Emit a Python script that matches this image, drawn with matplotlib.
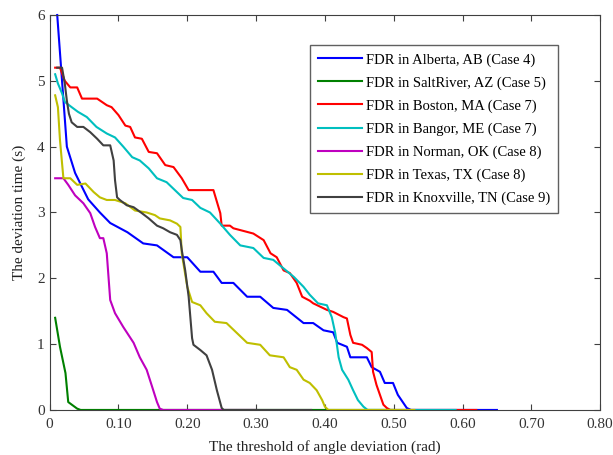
import matplotlib.pyplot as plt

plt.rcParams['font.family'] = ['Liberation Serif', 'DejaVu Serif']

# threshold (rad) / deviation time (s)
alberta_x = [0.011, 0.018, 0.025, 0.037, 0.056, 0.073, 0.088, 0.113, 0.136, 0.156, 0.18, 0.2,
             0.219, 0.238, 0.25, 0.267, 0.287, 0.306, 0.325, 0.345, 0.369, 0.383, 0.398, 0.412,
             0.418, 0.432, 0.437, 0.461, 0.468, 0.48, 0.487, 0.499, 0.506, 0.519, 0.525, 0.65]
alberta_y = [6.0, 5.0, 4.0, 3.6, 3.2, 3.0, 2.84, 2.7, 2.53, 2.5, 2.32, 2.32,
             2.1, 2.1, 1.93, 1.93, 1.72, 1.72, 1.55, 1.52, 1.32, 1.32, 1.21, 1.18,
             1.02, 0.96, 0.8, 0.8, 0.65, 0.58, 0.41, 0.41, 0.23, 0.03, 0.0, 0.0]

saltriver_x = [0.008, 0.015, 0.023, 0.027, 0.04, 0.045, 0.5]
saltriver_y = [1.4, 0.96, 0.56, 0.12, 0.02, 0.0, 0.0]

boston_x = [0.008, 0.015, 0.022, 0.03, 0.04, 0.047, 0.069, 0.083, 0.09, 0.1, 0.11, 0.117,
            0.124, 0.134, 0.144, 0.156, 0.168, 0.18, 0.192, 0.202, 0.238, 0.248, 0.25, 0.262,
            0.267, 0.296, 0.311, 0.321, 0.33, 0.34, 0.349, 0.359, 0.367, 0.378, 0.383, 0.403,
            0.412, 0.427, 0.432, 0.437, 0.441, 0.454, 0.461, 0.468, 0.47, 0.475, 0.48, 0.485,
            0.49, 0.495, 0.62]
boston_y = [5.2, 5.2, 5.0, 4.9, 4.9, 4.73, 4.73, 4.63, 4.6, 4.48, 4.32, 4.3,
            4.14, 4.12, 3.92, 3.9, 3.72, 3.69, 3.52, 3.34, 3.34, 2.99, 2.8, 2.8,
            2.76, 2.68, 2.58, 2.38, 2.32, 2.12, 2.08, 1.93, 1.72, 1.66, 1.62, 1.52,
            1.49, 1.41, 1.39, 1.14, 1.02, 0.99, 0.94, 0.88, 0.58, 0.38, 0.23, 0.08,
            0.03, 0.0, 0.0]

bangor_x = [0.008, 0.012, 0.018, 0.022, 0.032, 0.041, 0.054, 0.068, 0.083, 0.095, 0.107, 0.12,
            0.131, 0.144, 0.156, 0.17, 0.182, 0.194, 0.207, 0.219, 0.233, 0.248, 0.262, 0.277,
            0.296, 0.311, 0.325, 0.34, 0.355, 0.369, 0.378, 0.39, 0.403, 0.41, 0.415, 0.42,
            0.425, 0.434, 0.441, 0.448, 0.456, 0.462, 0.59]
bangor_y = [5.1, 4.96, 4.81, 4.68, 4.6, 4.53, 4.45, 4.3, 4.2, 4.14, 4.0, 3.84,
            3.79, 3.67, 3.52, 3.46, 3.34, 3.22, 3.19, 3.07, 3.0, 2.83, 2.66, 2.5,
            2.46, 2.31, 2.28, 2.15, 2.02, 1.87, 1.75, 1.62, 1.59, 1.41, 1.17, 0.8,
            0.61, 0.46, 0.3, 0.15, 0.05, 0.0, 0.0]

norman_x = [0.008, 0.02, 0.027, 0.037, 0.049, 0.059, 0.066, 0.073, 0.078, 0.083, 0.088, 0.095,
            0.107, 0.122, 0.131, 0.141, 0.149, 0.156, 0.16, 0.165, 0.3]
norman_y = [3.52, 3.52, 3.42, 3.26, 3.14, 2.99, 2.78, 2.61, 2.61, 2.38, 1.67, 1.47,
            1.26, 1.02, 0.8, 0.61, 0.35, 0.12, 0.02, 0.0, 0.0]

texas_x = [0.008, 0.012, 0.015, 0.018, 0.02, 0.03, 0.04, 0.052, 0.064, 0.073, 0.083, 0.095,
           0.11, 0.124, 0.141, 0.153, 0.16, 0.175, 0.185, 0.19, 0.192, 0.2, 0.207, 0.219,
           0.228, 0.24, 0.257, 0.272, 0.287, 0.306, 0.32, 0.34, 0.349, 0.359, 0.369, 0.378,
           0.388, 0.396, 0.4, 0.405, 0.53]
texas_y = [4.78, 4.6, 4.1, 3.75, 3.52, 3.52, 3.42, 3.44, 3.31, 3.23, 3.19, 3.19,
           3.14, 3.03, 3.0, 2.96, 2.91, 2.88, 2.83, 2.78, 2.38, 1.87, 1.64, 1.59,
           1.47, 1.34, 1.32, 1.17, 1.02, 0.99, 0.83, 0.8, 0.65, 0.61, 0.46, 0.41,
           0.3, 0.15, 0.05, 0.0, 0.0]

knoxville_x = [0.011, 0.018, 0.022, 0.025, 0.028, 0.032, 0.04, 0.049, 0.059, 0.069, 0.078, 0.088,
               0.093, 0.095, 0.098, 0.102, 0.112, 0.122, 0.134, 0.144, 0.156, 0.165, 0.175, 0.185,
               0.19, 0.192, 0.197, 0.202, 0.207, 0.209, 0.219, 0.228, 0.236, 0.243, 0.25, 0.253,
               0.38]
knoxville_y = [5.2, 5.2, 4.96, 4.7, 4.5, 4.37, 4.3, 4.3, 4.22, 4.12, 4.02, 4.02,
               3.79, 3.49, 3.23, 3.19, 3.11, 3.08, 2.99, 2.91, 2.8, 2.76, 2.7, 2.66,
               2.58, 2.43, 2.12, 1.72, 1.09, 0.99, 0.91, 0.83, 0.61, 0.3, 0.03, 0.0,
               0.0]

labels = ['FDR in Alberta, AB (Case 4)', 'FDR in SaltRiver, AZ (Case 5)',
          'FDR in Boston, MA (Case 7)', 'FDR in Bangor, ME (Case 7)',
          'FDR in Norman, OK (Case 8)', 'FDR in Texas, TX (Case 8)',
          'FDR in Knoxville, TN (Case 9)']
colors = ['#0000ff', '#008000', '#ff0000', '#00bfbf', '#bf00bf', '#bfbf00', '#404040']

series = [(alberta_x, alberta_y), (saltriver_x, saltriver_y), (boston_x, boston_y),
          (bangor_x, bangor_y), (norman_x, norman_y), (texas_x, texas_y),
          (knoxville_x, knoxville_y)]

x_ticks = [0, 0.1, 0.2, 0.3, 0.4, 0.5, 0.6, 0.7, 0.8]
x_tick_labels = ['0', '0.10', '0.20', '0.30', '0.40', '0.50', '0.60', '0.70', '0.80']

fig = plt.figure(figsize=(6.13, 4.55), dpi=100)
ax = fig.add_axes([0.081, 0.099, 0.898, 0.868])

for (xs, ys), lab, col in zip(series, labels, colors):
    ax.plot(xs, ys, color=col, linewidth=1.5, label=lab, clip_on=False)

ax.set_xlim(0, 0.8)
ax.set_ylim(0, 6)
ax.set_xticks(x_ticks)
ax.set_xticklabels(x_tick_labels)
ax.set_yticks(range(7))
ax.tick_params(direction='in', top=True, right=True, length=4, labelsize=11,
               colors='#404040', labelcolor='#333333')
ax.tick_params(axis='x', pad=6)
for sp in ax.spines.values():
    sp.set_color('#404040')

ax.set_xlabel('The threshold of angle deviation (rad)', fontsize=11, color='#222222', labelpad=6)
ax.set_ylabel('The deviation time (s)', fontsize=11, color='#222222', labelpad=8)

leg = ax.legend(loc='upper right', bbox_to_anchor=(0.924, 0.924), fontsize=10.5,
                fancybox=False, framealpha=1, edgecolor='#606060', handlelength=3.0,
                handletextpad=0.3, borderpad=0.55, labelspacing=0.66, borderaxespad=0)
leg.get_frame().set_linewidth(1.0)

fig.savefig('out.png', dpi=100)
